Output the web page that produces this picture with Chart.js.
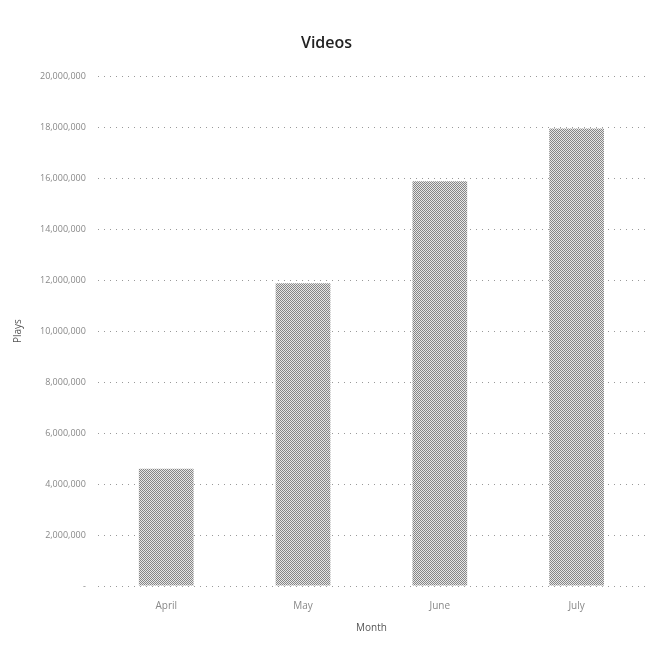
<!DOCTYPE html>
<html>
<head>
<meta charset="utf-8">
<script src="https://cdn.jsdelivr.net/npm/chart.js@4"></script>
<style>
  html, body { margin: 0; padding: 0; background: #fff; }
  #wrap { width: 653px; height: 652px; }
</style>
</head>
<body>
<div id="wrap"><canvas id="videos-chart"></canvas></div>
<script>
// Monthly video plays
const months = ['April', 'May', 'June', 'July'];
const plays = [4600000, 11880000, 15880000, 17950000];
const yTicks = [0, 2000000, 4000000, 6000000, 8000000, 10000000, 12000000, 14000000, 16000000, 18000000, 20000000];

// dithered grey fill, like the printed original
function ditherPattern() {
  const c = document.createElement('canvas');
  c.width = 4; c.height = 4;
  const g = c.getContext('2d');
  g.fillStyle = '#e6e6e6';
  g.fillRect(0, 0, 4, 4);
  g.fillStyle = '#858585';
  for (let y = 0; y < 4; y++) {
    for (let x = 0; x < 4; x++) {
      if ((x + y) % 2 === 0) g.fillRect(x, y, 1, 1);
    }
  }
  return g.createPattern(c, 'repeat');
}

const ctx = document.getElementById('videos-chart').getContext('2d');
new Chart(ctx, {
  type: 'bar',
  data: {
    labels: months,
    datasets: [{
      label: 'Plays',
      data: plays,
      backgroundColor: ditherPattern(),
      borderWidth: 0,
      barPercentage: 0.4,
      categoryPercentage: 1
    }]
  },
  options: {
    responsive: true,
    maintainAspectRatio: false,
    animation: false,
    layout: { padding: { left: 8, right: 8, top: 34, bottom: 14 } },
    plugins: {
      legend: { display: false },
      tooltip: { enabled: false },
      title: {
        display: true,
        text: 'Videos',
        color: '#222',
        font: { family: 'Open Sans', size: 16, weight: '600' },
        padding: { top: 0, bottom: 23 }
      }
    },
    scales: {
      x: {
        grid: { display: false },
        border: { display: false },
        ticks: { color: '#888', font: { family: 'Open Sans', size: 10 }, padding: 6 },
        title: {
          display: true,
          text: 'Month',
          color: '#555',
          font: { family: 'Open Sans', size: 10 },
          padding: { top: 4 }
        }
      },
      y: {
        min: 0,
        max: 20000000,
        afterBuildTicks: axis => { axis.ticks = yTicks.map(v => ({ value: v })); },
        grid: {
          color: '#999',
          lineWidth: 1,
          drawTicks: false
        },
        border: { display: false, dash: [1, 5] },
        ticks: {
          color: '#888',
          font: { family: 'Open Sans', size: 9 },
          padding: 12,
          callback: v => v === 0 ? '-' : v.toLocaleString('en-US')
        },
        title: {
          display: true,
          text: 'Plays',
          color: '#555',
          font: { family: 'Open Sans', size: 10 },
          padding: { bottom: 4 }
        }
      }
    }
  }
});
</script>
</body>
</html>
